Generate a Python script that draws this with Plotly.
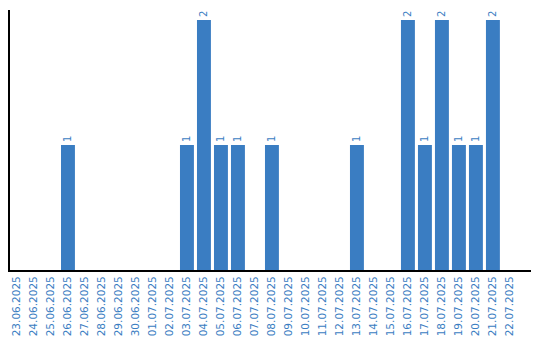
import plotly.graph_objects as go

dates = ["23.06.2025", "24.06.2025", "25.06.2025", "26.06.2025", "27.06.2025",
         "28.06.2025", "29.06.2025", "30.06.2025", "01.07.2025", "02.07.2025",
         "03.07.2025", "04.07.2025", "05.07.2025", "06.07.2025", "07.07.2025",
         "08.07.2025", "09.07.2025", "10.07.2025", "11.07.2025", "12.07.2025",
         "13.07.2025", "14.07.2025", "15.07.2025", "16.07.2025", "17.07.2025",
         "18.07.2025", "19.07.2025", "20.07.2025", "21.07.2025", "22.07.2025"]
counts = [0, 0, 0, 1, 0, 0, 0, 0, 0, 0,
          1, 2, 1, 1, 0, 1, 0, 0, 0, 0,
          1, 0, 0, 2, 1, 2, 1, 1, 2, 0]

blue = "#3a7dc2"
labels = [str(v) if v else "" for v in counts]

fig = go.Figure(go.Bar(
    x=dates, y=counts, text=labels, textposition="outside",
    textangle=-90, textfont=dict(color=blue, size=10, family="DejaVu Sans"),
    marker=dict(color=blue, line=dict(width=0)), cliponaxis=False,
))
fig.update_layout(
    width=540, height=340, margin=dict(l=10, r=9, t=10, b=70),
    paper_bgcolor="white", plot_bgcolor="white", bargap=0.18,
    showlegend=False,
    xaxis=dict(type="category", range=[-0.41, 30.24], tickangle=-90,
               automargin=False,
               tickfont=dict(color=blue, size=10.5, family="DejaVu Sans"),
               showline=True, linecolor="black", linewidth=2, showgrid=False,
               ticks=""),
    yaxis=dict(range=[0, 2.08], showticklabels=False, showgrid=False,
               automargin=False,
               zeroline=False, showline=True, linecolor="black", linewidth=2,
               ticks=""),
)
fig.write_html("out.html")
